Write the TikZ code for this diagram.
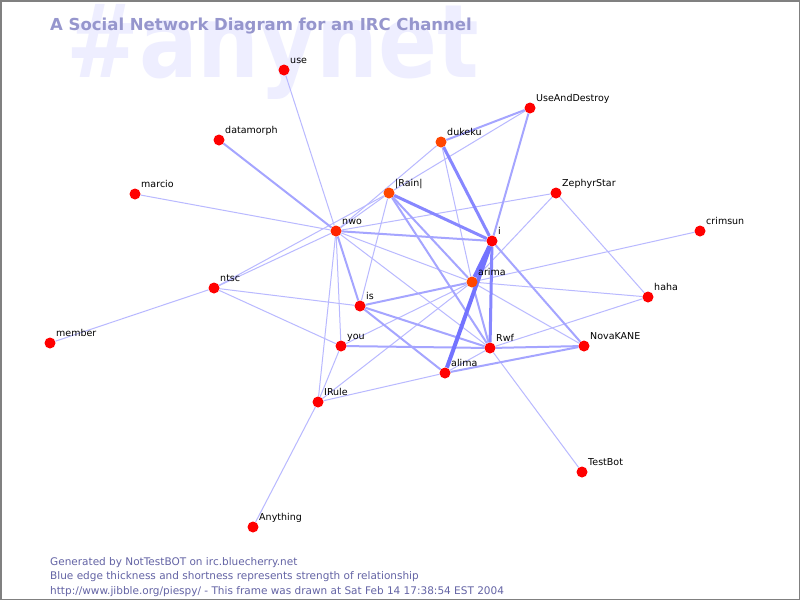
\documentclass[tikz,border=0pt]{standalone}
\usepackage{fontspec}
\setmainfont{DejaVu Sans}
\usetikzlibrary{positioning}

\definecolor{nickred}{RGB}{255,0,0}
\definecolor{nickhot}{RGB}{255,70,0}
\definecolor{nickwarm}{RGB}{255,35,0}
\definecolor{edgeweak}{RGB}{185,185,255}
\definecolor{edgemid}{RGB}{165,165,255}
\definecolor{edgestrong}{RGB}{135,135,255}
\definecolor{edgevstrong}{RGB}{115,115,255}
\definecolor{titleblue}{RGB}{150,150,205}
\definecolor{footblue}{RGB}{100,100,165}
\definecolor{markblue}{RGB}{238,238,255}

\pgfdeclarelayer{back}
\pgfdeclarelayer{edges}
\pgfsetlayers{back,edges,main}

\begin{document}
\begin{tikzpicture}[x=1pt,y=-1pt]
	\tikzstyle{nick} = [circle, inner sep=0pt, minimum size=11pt, fill=nickred]
	\tikzstyle{nicklabel} = [anchor=base west, inner sep=0pt, xshift=2pt, yshift=2pt, font=\fontsize{9.5}{11}\selectfont]
	\tikzstyle{weak} = [draw=edgeweak, line width=1pt]
	\tikzstyle{mid} = [draw=edgemid, line width=2pt]
	\tikzstyle{strong} = [draw=edgestrong, line width=3pt]
	\tikzstyle{vstrong} = [draw=edgevstrong, line width=4pt]
	\tikzstyle{foot} = [anchor=base west, inner sep=0pt, text=footblue, font=\fontsize{10.5}{12}\selectfont]

	\useasboundingbox (0,0) rectangle (800,600);

	\begin{pgfonlayer}{back}
		\fill[white] (0,0) rectangle (800,600);
		\node (channel) [anchor=base west, inner sep=0pt, text=markblue, font=\bfseries\fontsize{87}{87}\selectfont] at (66,77) {\scalebox{1}[1.17]{\#anynet}};
	\end{pgfonlayer}
	\node (title) [anchor=base west, inner sep=0pt, text=titleblue, font=\bfseries\fontsize{16.5}{18}\selectfont] at (50,30) {A Social Network Diagram for an IRC Channel};

	% nicks
	\node (use) [nick, label={[nicklabel]45:use}] at (284,70) {};
	\node (datamorph) [nick, label={[nicklabel]45:datamorph}] at (219,140) {};
	\node (marcio) [nick, label={[nicklabel]45:marcio}] at (135,194) {};
	\node (nwo) [nick, fill=nickwarm, label={[nicklabel]45:nwo}] at (336,231) {};
	\node (ntsc) [nick, label={[nicklabel]45:ntsc}] at (214,288) {};
	\node (member) [nick, label={[nicklabel]45:member}] at (50,343) {};
	\node (rain) [nick, fill=nickhot, label={[nicklabel]45:|Rain|}] at (389,193) {};
	\node (dukeku) [nick, fill=nickhot, label={[nicklabel]45:dukeku}] at (441,142) {};
	\node (useanddestroy) [nick, label={[nicklabel]45:UseAndDestroy}] at (530,108) {};
	\node (zephyrstar) [nick, label={[nicklabel]45:ZephyrStar}] at (556,193) {};
	\node (i) [nick, label={[nicklabel]45:i}] at (492,241) {};
	\node (crimsun) [nick, label={[nicklabel]45:crimsun}] at (700,231) {};
	\node (arima) [nick, fill=nickhot, label={[nicklabel]45:arima}] at (472,282) {};
	\node (haha) [nick, label={[nicklabel]45:haha}] at (648,297) {};
	\node (is) [nick, label={[nicklabel]45:is}] at (360,306) {};
	\node (you) [nick, label={[nicklabel]45:you}] at (341,346) {};
	\node (rwf) [nick, label={[nicklabel]45:Rwf}] at (490,348) {};
	\node (novakane) [nick, label={[nicklabel]45:NovaKANE}] at (584,346) {};
	\node (alima) [nick, label={[nicklabel]45:alima}] at (445,373) {};
	\node (irule) [nick, label={[nicklabel]45:IRule}] at (318,402) {};
	\node (testbot) [nick, label={[nicklabel]45:TestBot}] at (582,472) {};
	\node (anything) [nick, label={[nicklabel]45:Anything}] at (253,527) {};

	% relationships
	\begin{pgfonlayer}{edges}
		\draw [weak] (use) -- (nwo);
		\draw [weak] (marcio) -- (nwo);
		\draw [weak] (ntsc) -- (nwo);
		\draw [weak] (ntsc) -- (rain);
		\draw [weak] (ntsc) -- (is);
		\draw [weak] (ntsc) -- (you);
		\draw [weak] (ntsc) -- (member);
		\draw [weak] (nwo) -- (rain);
		\draw [weak] (nwo) -- (dukeku);
		\draw [weak] (nwo) -- (zephyrstar);
		\draw [weak] (nwo) -- (arima);
		\draw [weak] (nwo) -- (you);
		\draw [weak] (nwo) -- (irule);
		\draw [weak] (nwo) -- (rwf);
		\draw [weak] (rain) -- (is);
		\draw [weak] (rain) -- (useanddestroy);
		\draw [weak] (dukeku) -- (arima);
		\draw [weak] (zephyrstar) -- (arima);
		\draw [weak] (zephyrstar) -- (haha);
		\draw [weak] (arima) -- (crimsun);
		\draw [weak] (arima) -- (haha);
		\draw [weak] (arima) -- (you);
		\draw [weak] (arima) -- (irule);
		\draw [weak] (arima) -- (novakane);
		\draw [weak] (you) -- (irule);
		\draw [weak] (irule) -- (alima);
		\draw [weak] (irule) -- (anything);
		\draw [weak] (rwf) -- (alima);
		\draw [weak] (rwf) -- (testbot);
		\draw [weak] (rwf) -- (haha);
		\draw [mid] (datamorph) -- (nwo);
		\draw [mid] (nwo) -- (i);
		\draw [mid] (nwo) -- (is);
		\draw [mid] (rain) -- (arima);
		\draw [mid] (rain) -- (rwf);
		\draw [mid] (dukeku) -- (useanddestroy);
		\draw [mid] (useanddestroy) -- (i);
		\draw [mid] (arima) -- (is);
		\draw [mid] (arima) -- (rwf);
		\draw [mid] (is) -- (rwf);
		\draw [mid] (is) -- (alima);
		\draw [mid] (you) -- (rwf);
		\draw [mid] (rwf) -- (novakane);
		\draw [mid] (novakane) -- (alima);
		\draw [mid] (i) -- (novakane);
		\draw [strong] (rain) -- (i);
		\draw [strong] (dukeku) -- (i);
		\draw [strong] (i) -- (rwf);
		\draw [vstrong] (i) -- (arima);
		\draw [vstrong] (i) -- (alima);
	\end{pgfonlayer}

	\node (generated) [foot] at (50,565) {Generated by NotTestBOT on irc.bluecherry.net};
	\node (legend) [foot] at (50,579.5) {Blue edge thickness and shortness represents strength of relationship};
	\node (stamp) [foot] at (50,594) {http://www.jibble.org/piespy/ - This frame was drawn at Sat Feb 14 17:38:54 EST 2004};

	\draw [gray, line width=1.5pt] (0.75,0.75) rectangle (799.25,599.25);
\end{tikzpicture}
\end{document}
